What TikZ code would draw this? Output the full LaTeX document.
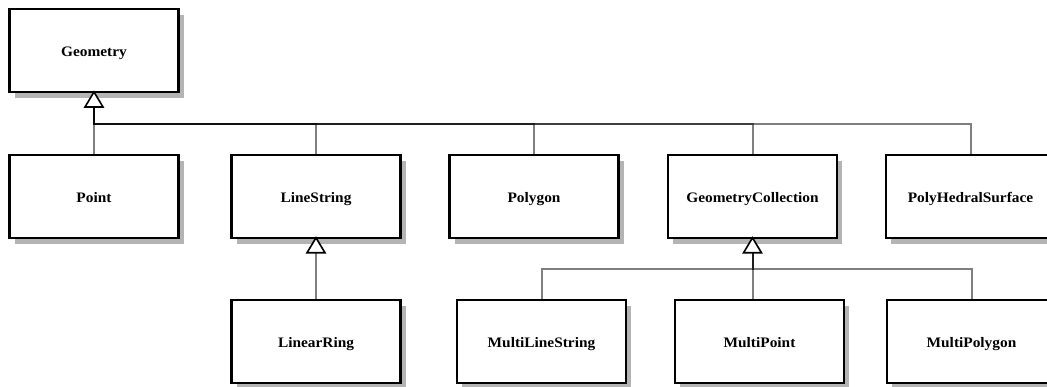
\documentclass[tikz,border=0pt]{standalone}
\usepackage{fontspec}
\setmainfont{Liberation Serif}[FakeStretch=1.06]
\usetikzlibrary{shadows}
\definecolor{shadowgray}{RGB}{180,180,180}
\tikzset{
  cls/.style={draw=black, line width=2.4pt, fill=white, minimum width=169pt, minimum height=83pt,
    inner sep=0pt, outer sep=0pt, text height=12.6pt, text depth=0pt,
    font=\bfseries\fontsize{14.5}{16}\selectfont,
    drop shadow={shadow xshift=5pt, shadow yshift=-6pt, fill=shadowgray, opacity=1}},
  conn/.style={draw=black, opacity=0.5, line width=2pt},
  head/.style={draw=black, fill=white, line width=1.6pt, line join=miter}
}
\begin{document}
\begin{tikzpicture}[x=1pt,y=1pt]
\useasboundingbox (0,0) rectangle (1047,387);
% classes
\node[cls] (g)   at (94,336.5)    {Geometry};
\node[cls] (pt)  at (94,190.7)    {Point};
\node[cls] (ls)  at (316,190.7)   {LineString};
\node[cls] (pg)  at (534,190.7)   {Polygon};
\node[cls] (gc)  at (752.5,190.7) {GeometryCollection};
\node[cls] (phs) at (970.5,190.7) {PolyHedralSurface};
\node[cls] (lr)  at (316,45.5)    {LinearRing};
\node[cls] (mls) at (541.5,45.5)  {MultiLineString};
\node[cls] (mp)  at (759.5,45.5)  {MultiPoint};
\node[cls] (mpg) at (971.5,45.5)  {MultiPolygon};
\coordinate (b1) at (0,263);
\coordinate (b2) at (0,118);
% generalisations to Geometry
\draw[conn] (pt.north) -- ([yshift=-15pt]g.south);
\draw[conn] (ls.north) -- (ls.north |- b1) -- (g.south |- b1) -- ([yshift=-15pt]g.south);
\draw[conn] (pg.north) -- (pg.north |- b1) -- (g.south |- b1) -- ([yshift=-15pt]g.south);
\draw[conn] (gc.north) -- (gc.north |- b1) -- (g.south |- b1) -- ([yshift=-15pt]g.south);
\draw[conn] (phs.north) -- (phs.north |- b1) -- (g.south |- b1) -- ([yshift=-15pt]g.south);
% LinearRing to LineString
\draw[conn] (lr.north) -- ([yshift=-15pt]ls.south);
% to GeometryCollection
\draw[conn] (mls.north) -- (mls.north |- b2) -- (gc.south |- b2) -- ([yshift=-15pt]gc.south);
\draw[conn] (gc.south |- mp.north) -- ([yshift=-15pt]gc.south);
\draw[conn] (mpg.north) -- (mpg.north |- b2) -- (gc.south |- b2) -- ([yshift=-15pt]gc.south);
% hollow triangle heads
\draw[head] (g.south) -- ++(9,-15) -- ++(-18,0) -- cycle;
\draw[head] (ls.south) -- ++(9,-15) -- ++(-18,0) -- cycle;
\draw[head] (gc.south) -- ++(9,-15) -- ++(-18,0) -- cycle;
\end{tikzpicture}
\end{document}
